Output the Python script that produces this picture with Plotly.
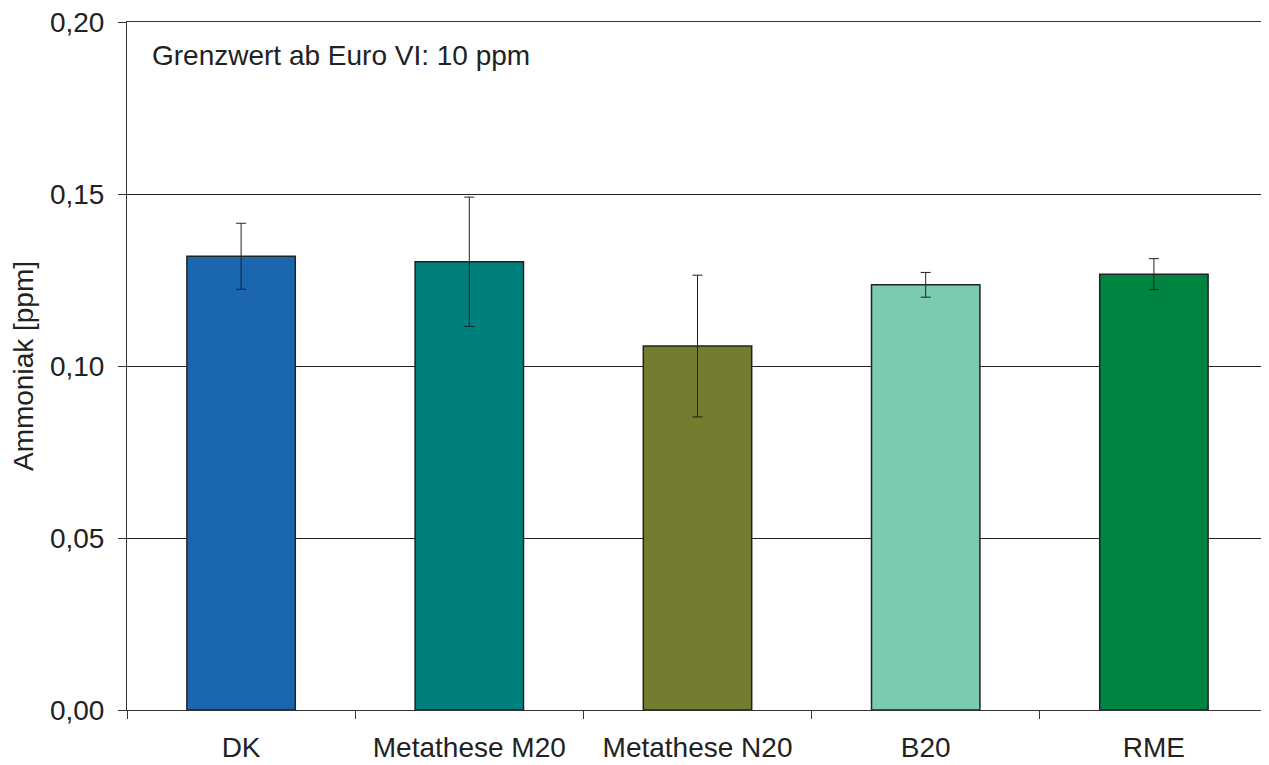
import plotly.graph_objects as go

categories = ["DK", "Metathese M20", "Metathese N20", "B20", "RME"]
values = [0.1319, 0.1303, 0.1058, 0.1236, 0.1267]
errors = [0.0096, 0.0188, 0.0206, 0.0036, 0.0045]
colors = ["#1a67b0", "#00807c", "#737c2f", "#7acbb2", "#008442"]
y_ticks = [0.0, 0.05, 0.10, 0.15, 0.20]
y_tick_labels = ["0,00", "0,05", "0,10", "0,15", "0,20"]
note = "Grenzwert ab Euro VI: 10 ppm"

fig = go.Figure()
fig.add_trace(go.Bar(
    x=categories, y=values,
    marker=dict(color=colors, line=dict(color="#222222", width=1.5)),
    error_y=dict(type="data", array=errors, visible=True, color="#222222", thickness=1, width=5),
    width=0.475,
))

font = dict(family="Liberation Sans, Arial, sans-serif", size=28, color="#222222")

fig.update_layout(
    width=1261, height=757,
    margin=dict(l=119, r=1, t=14, b=55),
    plot_bgcolor="white", paper_bgcolor="white",
    font=font,
    showlegend=False,
    xaxis=dict(
        showline=True, linecolor="#333333", linewidth=1, mirror=True,
        ticks="outside", tickson="boundaries", ticklen=8, tickcolor="#333333",
        showgrid=False, tickfont=font, ticklabelstandoff=12,
        ticklabeloverflow="allow", automargin=False,
    ),
    yaxis=dict(
        range=[0, 0.2], tickvals=y_ticks, ticktext=y_tick_labels,
        showline=True, linecolor="#333333", linewidth=1, mirror=True,
        ticks="outside", ticklen=8, tickcolor="#333333",
        showgrid=True, gridcolor="#222222", gridwidth=1,
        zeroline=False, tickfont=font, ticklabelstandoff=8,
        ticklabeloverflow="allow", automargin=False,
        title=dict(text="Ammoniak [ppm]", font=font, standoff=14),
    ),
    annotations=[dict(
        text=note, xref="paper", yref="paper", x=0.02, y=0.952,
        xanchor="left", yanchor="middle", showarrow=False, font=font,
    )],
)

fig.write_html("out.html")
